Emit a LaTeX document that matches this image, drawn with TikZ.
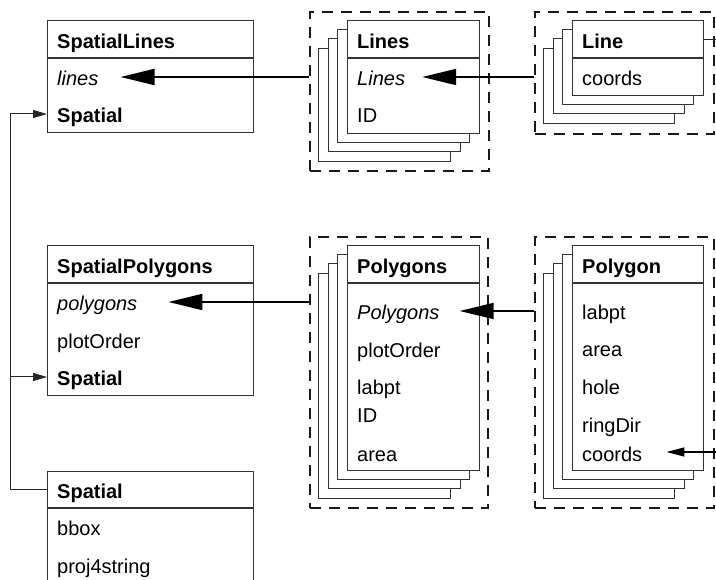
\documentclass[tikz,border=0pt]{standalone}
\usepackage{fontspec}
\setmainfont{Liberation Sans}
\usetikzlibrary{arrows.meta,positioning}

\begin{document}
\begin{tikzpicture}[x=1pt,y=-1pt,
  every node/.style={font=\fontsize{20}{24}\selectfont},
  edge/.style={draw=black!80,line width=1.1pt},
  box/.style={edge,fill=white},
  umlbox/.style 2 args={box,minimum width=#1,minimum height=#2,inner sep=0pt,anchor=north west},
  group/.style={draw=black!90,line width=1.7pt,dash pattern=on 11pt off 8pt,inner sep=0pt,anchor=north west},
  row/.style={anchor=west,inner sep=0pt,text height=18pt,text depth=0pt},
  head/.style={row,font=\fontsize{20}{24}\selectfont\bfseries},
  slot/.style={row,font=\fontsize{20}{24}\selectfont\itshape},
  link/.style={draw=black!85,line width=1pt},
  ref/.style={line width=1.9pt,-{Triangle[length=34pt,width=16pt]}},
  smallref/.style={line width=1.3pt,-{Triangle[length=18pt,width=9pt]}},
  inherit/.style={link,-{Triangle[length=14pt,width=8pt]}}]
\clip (0,0) rectangle (716,580);

% dashed groups
\node[group,minimum width=179pt,minimum height=159pt] (linesgrp) at (309,11) {};
\node[group,minimum width=179pt,minimum height=122pt] (linegrp) at (534,11) {};
\node[group,minimum width=178pt,minimum height=271pt] (polysgrp) at (309,236) {};
\node[group,minimum width=179pt,minimum height=271pt] (polygrp) at (534,236) {};

% SpatialLines
\node[umlbox={206pt}{112pt}] (slbox) at (47,20) {};
\draw[edge] (slbox.west |- 0,58) -- (slbox.east |- 0,58);
\node[head] (sltitle) at (57,40) {SpatialLines};
\node[slot] (sllines) at (57,77) {lines};
\node[head] (slspatial) at (57,114) {Spatial};

% SpatialPolygons
\node[umlbox={206pt}{150pt}] (spolybox) at (47,245) {};
\draw[edge] (spolybox.west |- 0,283) -- (spolybox.east |- 0,283);
\node[head] (sptitle) at (57,265) {SpatialPolygons};
\node[slot] (sppolygons) at (57,302) {polygons};
\node[row] (sporder) at (57,340) {plotOrder};
\node[head] (spspatial) at (57,377) {Spatial};

% Spatial
\node[umlbox={206pt}{130pt}] (spbox) at (47,471) {};
\draw[edge] (spbox.west |- 0,508) -- (spbox.east |- 0,508);
\node[head] (stitle) at (57,490) {Spatial};
\node[row] (sbbox) at (57,527) {bbox};
\node[row] (sproj) at (57,564) {proj4string};

% Lines
\foreach \i in {3,2,1}
  \draw[box,shift={(-9.4*\i,9.4*\i)}] (347,20) rectangle (479,133);
\node[umlbox={132pt}{113pt}] (linescard) at (347,20) {};
\draw[edge] (linescard.west |- 0,58) -- (linescard.east |- 0,58);
\node[head] (lstitle) at (357,40) {Lines};
\node[slot] (lslines) at (357,77) {Lines};
\node[row] (lsid) at (357,114) {ID};

% Line
\foreach \i in {3,2,1}
  \draw[box,shift={(-9.4*\i,9.4*\i)}] (572,20) rectangle (703,95);
\node[umlbox={131pt}{75pt}] (linecard) at (572,20) {};
\draw[edge] (linecard.west |- 0,58) -- (linecard.east |- 0,58);
\node[head] (lntitle) at (582,40) {Line};
\node[row] (lncoords) at (582,77) {coords};

% Polygons
\foreach \i in {3,2,1}
  \draw[box,shift={(-9.4*\i,9.4*\i)}] (347,245) rectangle (479,470);
\node[umlbox={132pt}{225pt}] (polyscard) at (347,245) {};
\draw[edge] (polyscard.west |- 0,283) -- (polyscard.east |- 0,283);
\node[head] (pstitle) at (357,265) {Polygons};
\node[slot] (pspolygons) at (357,311) {Polygons};
\node[row] (psorder) at (357,349) {plotOrder};
\node[row] (pslabpt) at (357,386) {labpt};
\node[row] (psid) at (357,414) {ID};
\node[row] (psarea) at (357,452) {area};

% Polygon
\foreach \i in {3,2,1}
  \draw[box,shift={(-9.4*\i,9.4*\i)}] (572,245) rectangle (703,470);
\node[umlbox={131pt}{225pt}] (polycard) at (572,245) {};
\draw[edge] (polycard.west |- 0,283) -- (polycard.east |- 0,283);
\node[head] (pgtitle) at (582,265) {Polygon};
\node[row] (pglabpt) at (582,311) {labpt};
\node[row] (pgarea) at (582,348) {area};
\node[row] (pghole) at (582,386) {hole};
\node[row] (pgring) at (582,424) {ringDir};
\node[row] (pgcoords) at (582,452) {coords};

% connectors
\coordinate (trunk) at (10,0);
\coordinate (offright) at (716,0);
\draw[ref] (linesgrp.west |- sllines) -- ([xshift=22pt]sllines.east);
\draw[ref] (linegrp.west |- lslines) -- ([xshift=17pt]lslines.east);
\draw[ref] (polysgrp.west |- sppolygons) -- ([xshift=31pt]sppolygons.east);
\draw[ref] (polygrp.west |- pspolygons) -- ([xshift=20pt]pspolygons.east);
\draw[smallref] (offright |- pgcoords) -- ([xshift=24pt]pgcoords.east);
\draw[link] (linecard.east |- lntitle) -- (offright |- lntitle);
\draw[link] (spbox.west |- stitle) -- (trunk |- stitle) -- (trunk |- slspatial);
\draw[inherit] (trunk |- slspatial) -- (slbox.west |- slspatial);
\draw[inherit] (trunk |- spspatial) -- (spolybox.west |- spspatial);
\end{tikzpicture}
\end{document}
